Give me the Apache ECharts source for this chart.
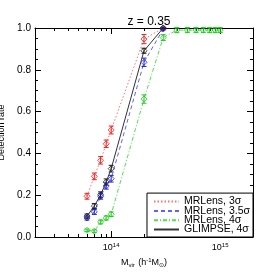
<!DOCTYPE html>
<html>
<head>
<meta charset="utf-8">
<script src="https://cdn.jsdelivr.net/npm/echarts@6/dist/echarts.min.js"></script>
<style>html,body{margin:0;padding:0;background:#fff}#c{width:274px;height:274px}</style>
</head>
<body>
<div id="c"></div>
<script>
// ---- data ----
const mass = [6e13, 7e13, 8e13, 9e13, 1e14, 2e14, 3e14];
const massGreen = [6e13, 7e13, 8e13, 9e13, 1e14, 2e14, 3e14, 4e14, 5e14, 6e14, 7e14, 8e14, 9e14, 1e15];
const mr3 = [0.195, 0.29, 0.367, 0.446, 0.512, 0.947, 1.0];
const mr3Err = [0.014, 0.016, 0.018, 0.018, 0.019, 0.022, 0.003];
const mr35 = [0.091, 0.12, 0.195, 0.244, 0.279, 0.836, 0.995];
const mr35Err = [0.01, 0.012, 0.014, 0.015, 0.016, 0.02, 0.004];
const mr4 = [0.032, 0.028, 0.072, 0.091, 0.109, 0.66, 0.954, 0.99, 0.99, 0.99, 0.99, 0.99, 0.99, 0.99];
const mr4Err = [0.006, 0.006, 0.009, 0.01, 0.011, 0.02, 0.014, 0.012, 0.012, 0.012, 0.012, 0.012, 0.012, 0.012];
const gl4 = [0.1, 0.148, 0.202, 0.263, 0.327, 0.891, 1.0];
const gl4Err = [0.01, 0.012, 0.014, 0.015, 0.016, 0.012, 0.003];
const minorTicksX = [3e13, 4e13, 5e13, 6e13, 7e13, 8e13, 9e13, 2e14, 3e14, 4e14, 5e14, 6e14, 7e14, 8e14, 9e14];
const seriesNames = ['MRLens, 3σ', 'MRLens, 3.5σ', 'MRLens, 4σ', 'GLIMPSE, 4σ'];
const yTicks = [0, 0.2, 0.4, 0.6, 0.8, 1.0];

const FONT = 'Liberation Sans';
const pairs = (xs, ys) => xs.map((x, i) => [x, ys[i]]);
const errData = (xs, ys, es) => xs.map((x, i) => [x, ys[i] - es[i], Math.min(ys[i] + es[i], 1.005)]);

function errRender(color) {
  return function (params, api) {
    const x = api.value(0);
    const p1 = api.coord([x, api.value(1)]);
    const p2 = api.coord([x, api.value(2)]);
    const w = 2.5;
    const st = { stroke: color, lineWidth: 1 };
    return { type: 'group', children: [
      { type: 'line', shape: { x1: p1[0], y1: p1[1], x2: p2[0], y2: p2[1] }, style: st },
      { type: 'line', shape: { x1: p1[0] - w, y1: p1[1], x2: p1[0] + w, y2: p1[1] }, style: st },
      { type: 'line', shape: { x1: p2[0] - w, y1: p2[1], x2: p2[0] + w, y2: p2[1] }, style: st }
    ]};
  };
}
function minorRender(params, api) {
  const cs = params.coordSys;
  const p = api.coord([api.value(0), 0]);
  const L = 3;
  const st = { stroke: '#000', lineWidth: 1 };
  const x = Math.round(p[0]) + 0.5;
  return { type: 'group', children: [
    { type: 'line', shape: { x1: x, y1: cs.y + cs.height, x2: x, y2: cs.y + cs.height - L }, style: st },
    { type: 'line', shape: { x1: x, y1: cs.y, x2: x, y2: cs.y + L }, style: st }
  ]};
}

const defs = [
  { name: seriesNames[0], xs: mass, ys: mr3, es: mr3Err, line: '#ff7070', mk: '#ee2222', type: [1.5, 2] },
  { name: seriesNames[1], xs: mass, ys: mr35, es: mr35Err, line: '#6060ff', mk: '#2222dd', type: [4, 3] },
  { name: seriesNames[2], xs: massGreen, ys: mr4, es: mr4Err, line: '#50e050', mk: '#22cc22', type: [4, 2, 1, 2] },
  { name: seriesNames[3], xs: mass, ys: gl4, es: gl4Err, line: '#333333', mk: '#222222', type: 'solid' }
];

const series = [];
defs.forEach(d => {
  series.push({
    type: 'line', name: d.name, data: pairs(d.xs, d.ys), symbol: 'none', clip: false,
    lineStyle: { color: d.line, width: 1, type: d.type }, itemStyle: { color: d.line }, z: 2
  });
});
defs.forEach(d => {
  series.push({
    type: 'custom', name: d.name + ' err', data: errData(d.xs, d.ys, d.es),
    renderItem: errRender(d.mk), encode: { x: 0, y: [1, 2] }, clip: false, z: 3
  });
  series.push({
    type: 'scatter', name: d.name + ' pts', data: pairs(d.xs, d.ys), symbol: 'diamond', symbolSize: 6,
    clip: false, itemStyle: { color: 'rgba(0,0,0,0)', borderColor: d.mk, borderWidth: 1 }, z: 4
  });
});
series.push({
  type: 'custom', name: 'minor', data: minorTicksX.map(v => [v, 0]), renderItem: minorRender,
  encode: { x: 0, y: 1 }, silent: true, z: 1
});

const chart = echarts.init(document.getElementById('c'), null, { renderer: 'canvas' });
chart.setOption({
  animation: false,
  backgroundColor: '#fff',
  textStyle: { fontFamily: FONT },
  title: {
    text: 'z = 0.35', left: 144, textAlign: 'center', top: 11,
    textStyle: { fontFamily: FONT, fontSize: 12, fontWeight: 'normal', color: '#000' }
  },
  grid: { left: 35, right: 21, top: 28, bottom: 37, containLabel: false, outerBoundsMode: 'none' },
  legend: {
    data: seriesNames, orient: 'vertical', right: 21, bottom: 37,
    backgroundColor: '#fff', borderColor: '#000', borderWidth: 1, borderRadius: 0,
    padding: [3, 3, 2, 6], itemGap: -1.7, itemWidth: 25, itemHeight: 6,
    itemStyle: { opacity: 0 },
    textStyle: { fontFamily: FONT, fontSize: 10.5, color: '#000', lineHeight: 8 }
  },
  xAxis: [{
    type: 'log', logBase: 10, min: 2e13, max: 2e15, position: 'bottom',
    name: '{m|M}{s|vir} {m|(h}{u|-1}{m|M}{s|⊙}{m|)}', nameLocation: 'middle', nameGap: 18,
    nameTextStyle: { rich: {
      m: { fontFamily: FONT, fontSize: 9, color: '#000' },
      s: { fontFamily: FONT, fontSize: 6, color: '#000', padding: [4, 0, 0, 0] },
      u: { fontFamily: FONT, fontSize: 6, color: '#000', padding: [0, 0, 5, 0] }
    } },
    axisLine: { show: true, onZero: false, lineStyle: { color: '#000', width: 1 } },
    axisTick: { show: true, inside: true, length: 6, lineStyle: { color: '#000' } },
    splitLine: { show: false },
    axisLabel: {
      margin: 5, showMinLabel: false, showMaxLabel: false,
      formatter: v => { const e = Math.log10(v); return Math.abs(e - Math.round(e)) < 1e-6 ? '{b|10}{e|' + Math.round(e) + '}' : ''; },
      rich: {
        b: { fontFamily: FONT, fontSize: 9, color: '#000' },
        e: { fontFamily: FONT, fontSize: 6, color: '#000', padding: [0, 0, 5, 0] }
      }
    }
  }, {
    type: 'log', logBase: 10, min: 2e13, max: 2e15, position: 'top',
    axisLine: { show: true, onZero: false, lineStyle: { color: '#000', width: 1 } },
    axisTick: { show: true, inside: true, length: 6, lineStyle: { color: '#000' } },
    axisLabel: { show: false }, splitLine: { show: false }
  }],
  yAxis: [{
    type: 'value', min: 0, max: 1, interval: 0.2, position: 'left',
    name: 'Detection rate', nameLocation: 'middle', nameGap: 24,
    nameTextStyle: { fontFamily: FONT, fontSize: 9, color: '#000' },
    axisLine: { show: true, onZero: false, lineStyle: { color: '#000', width: 1 } },
    axisTick: { show: true, inside: true, length: 6, lineStyle: { color: '#000' } },
    minorTick: { show: true, splitNumber: 4, length: 3, lineStyle: { color: '#000' } },
    splitLine: { show: false },
    axisLabel: { margin: 4, fontFamily: FONT, fontSize: 10, color: '#000',
      formatter: v => (yTicks.some(t => Math.abs(t - v) < 1e-9) ? v.toFixed(1) : '') }
  }, {
    type: 'value', min: 0, max: 1, interval: 0.2, position: 'right',
    axisLine: { show: true, onZero: false, lineStyle: { color: '#000', width: 1 } },
    axisTick: { show: true, inside: true, length: 6, lineStyle: { color: '#000' } },
    minorTick: { show: true, splitNumber: 4, length: 3, lineStyle: { color: '#000' } },
    splitLine: { show: false }, axisLabel: { show: false }
  }],
  series: series
});
</script>
</body>
</html>
